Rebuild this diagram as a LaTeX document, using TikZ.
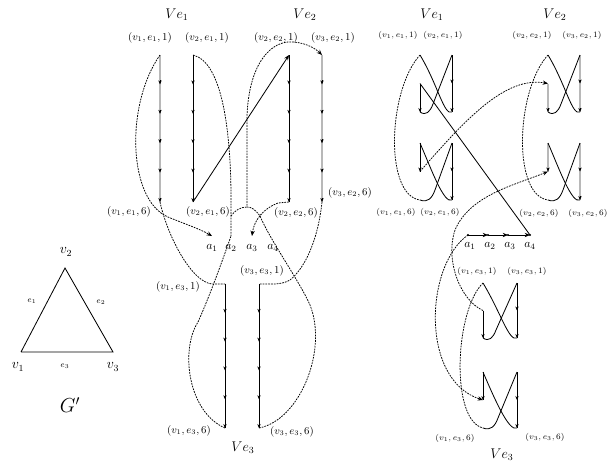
\documentclass[tikz,border=0pt]{standalone}
\usetikzlibrary{arrows.meta}

\begin{document}
\begin{tikzpicture}[
  x=0.03cm, y=-0.03cm,
  lab/.style={font=\small, inner sep=0pt},
  rlab/.style={font=\fontsize{7.4}{9}\selectfont, inner sep=0pt},
  gad/.style={font=\large, inner sep=0pt},
  sel/.style={font=\normalsize, inner sep=0pt},
  col/.style={line width=.7pt},
  gcol/.style={line width=1.6pt, draw=black!28},
  tick/.style={-{Stealth[length=1.2mm,width=1mm]}, line width=.45pt},
  walk/.style={dash pattern=on 1.5pt off 0.9pt, line width=.65pt},
  tip/.style={-{Stealth[length=1.6mm,width=1.3mm]}}
]
\useasboundingbox (0,0) rectangle (607,465);

% the graph G'
\coordinate (g1) at (21,352);
\coordinate (g2) at (65,268);
\coordinate (g3) at (113,352);
\draw[col] (g1) -- (g2) -- (g3) -- (g1);
\node[gad] (g1l) at (18,367) {$v_1$};
\node[gad] (g2l) at (66,252) {$v_2$};
\node[gad] (g3l) at (113,367) {$v_3$};
\node[font=\scriptsize] (e1l) at (32,301) {$e_1$};
\node[font=\scriptsize] (e2l) at (101,302) {$e_2$};
\node[font=\scriptsize] (e3l) at (65,366) {$e_3$};
\node[font=\LARGE] (gp) at (70,405) {$G'$};

% left drawing: the chains of the three gadgets
\foreach \n/\x/\yt/\yb/\st in {A/160/55/202/gcol, B/193/55/202/col, C/289/55/202/col,
    D/322/55/202/gcol, E/225/284/428/col, F/259/284/428/col}{
  \coordinate (\n1) at (\x,\yt);
  \coordinate (\n6) at (\x,\yb);
  \draw[\st] (\n1) -- (\n6);
  \foreach \i in {1,...,5}
    \draw[tick] (\x,{\yt+(\yb-\yt)*\i/5-4}) -- (\x,{\yt+(\yb-\yt)*\i/5});
}
\coordinate (a1) at (212,236);
\coordinate (a2) at (231,236);
\coordinate (a3) at (252,236);
\coordinate (a4) at (273,236);

\node[gad] (ve1) at (177,15) {$Ve_1$};
\node[gad] (ve2) at (305,15) {$Ve_2$};
\node[gad] (ve3) at (243,448) {$Ve_3$};
\node[lab] (lA1) at (150,38) {$(v_1,e_1,1)$};
\node[lab] (lB1) at (207,38) {$(v_2,e_1,1)$};
\node[lab] (lC1) at (276,38) {$(v_2,e_2,1)$};
\node[lab] (lD1) at (333,38) {$(v_3,e_2,1)$};
\node[lab] (lA6) at (129,212) {$(v_1,e_1,6)$};
\node[lab] (lB6) at (208,212) {$(v_2,e_1,6)$};
\node[lab] (lC6) at (296,213) {$(v_2,e_2,6)$};
\node[lab] (lD6) at (350,193) {$(v_3,e_2,6)$};
\node[lab] (lE1) at (178,287) {$(v_1,e_3,1)$};
\node[lab] (lF1) at (262,271) {$(v_3,e_3,1)$};
\node[lab] (lE6) at (189,431) {$(v_1,e_3,6)$};
\node[lab] (lF6) at (292,432) {$(v_3,e_3,6)$};
\node[sel] (la1) at (212,248) {$a_1$};
\node[sel] (la2) at (231,248) {$a_2$};
\node[sel] (la3) at (252,248) {$a_3$};
\node[sel] (la4) at (273,248) {$a_4$};

% v1
\draw[walk,tip] (A1) .. controls (125,105) and (128,200) .. (168,217) .. controls (185,224) and (200,229) .. (a1);
\draw[walk] (A6) .. controls (168,238) and (192,282) .. (212,284) -- (E1);
\draw[walk] (E6) .. controls (188,412) and (180,350) .. (198,322) .. controls (208,300) and (222,262) .. (a2);
% v2
\draw[walk] (B1) .. controls (222,62) and (232,130) .. (231,214) -- (a2);
\draw[col,tip] (B6) -- (C1);
\draw[walk,tip] (C6) -- (278,203) .. controls (264,208) and (254,220) .. (a3);
% v3
\draw[walk,tip] (F6) .. controls (300,420) and (328,350) .. (310,305) .. controls (300,282) and (270,240) .. (260,216)
  .. controls (255,209) and (251,207) .. (247,207) -- (247,116) .. controls (249,62) and (272,40) .. (293,42)
  .. controls (308,43) and (317,50) .. (D1);
\draw[walk] (231,216) .. controls (235,210) and (241,207) .. (247,207);
\draw[walk] (D6) .. controls (318,240) and (305,268) .. (290,280) .. controls (282,285) and (270,284) .. (F1);

% right drawing: the gadgets as bow ties
\foreach \n/\l/\r/\yt/\yb/\st in {P/420/452/55/112/col, Q/548/580/55/112/gcol, R/483/517/283/338/col}{
  \coordinate (\n m) at (\l,{(\yt+\yb)/2});
  \draw[\st] (\r,\yt) -- (\r,\yb);
  \draw[\st] (\n m) -- (\l,\yb);
  \draw[tick] (\r,{(\yt+\yb)/2-4}) -- (\r,{(\yt+\yb)/2});
  \draw[tick] (\r,\yb-4) -- (\r,\yb);
  \draw[tick] (\l,\yb-4) -- (\l,\yb);
  \draw[col] (\l,\yt) .. controls (\l+18,\yt+30) and (\r-8,\yb+4) .. (\r,\yb);
  \draw[col] (\l,\yb) .. controls (\l+6,\yb+4) and (\l+10,\yb) .. (\l+13,\yb-8) -- (\r,\yt);
}
\foreach \n/\l/\r/\yt/\yb/\st in {S/420/452/143/200/col, T/548/580/143/200/gcol, U/483/517/372/428/col}{
  \coordinate (\n m) at (\l,{(\yt+\yb)/2});
  \draw[\st] (\r,\yt) -- (\r,\yb);
  \draw[\st] (\l,\yt) -- (\n m);
  \draw[tick] (\r,{(\yt+\yb)/2-4}) -- (\r,{(\yt+\yb)/2});
  \draw[tick] (\r,\yb-4) -- (\r,\yb);
  \draw[tick] (\l,{(\yt+\yb)/2-4}) -- (\n m);
  \draw[col] (\l,\yt) .. controls (\l+12,\yt+28) and (\r-8,\yb+4) .. (\r,\yb);
  \draw[col] (\l,\yb) .. controls (\l+8,\yb+3) and (\l+12,\yb-2) .. (\l+15,\yb-10) -- (\r,\yt);
}
\coordinate (P1) at (420,55);
\coordinate (S6) at (420,200);
\coordinate (Q1) at (548,55);
\coordinate (T6) at (548,200);
\coordinate (R1) at (483,283);
\coordinate (U6) at (483,428);
\coordinate (b1) at (468,235);
\coordinate (b2) at (488,235);
\coordinate (b3) at (508,235);
\coordinate (b4) at (530,235);

\node[gad] (we1) at (432,15) {$Ve_1$};
\node[gad] (we2) at (555,15) {$Ve_2$};
\node[gad] (we3) at (502,455) {$Ve_3$};
\node[rlab] (rP1) at (398,35) {$(v_1,e_1,1)$};
\node[rlab] (rP2) at (443,35) {$(v_2,e_1,1)$};
\node[rlab] (rQ1) at (532,35) {$(v_2,e_2,1)$};
\node[rlab] (rQ2) at (582,35) {$(v_3,e_2,1)$};
\node[rlab] (rS1) at (396,212) {$(v_1,e_1,6)$};
\node[rlab] (rS2) at (440,212) {$(v_2,e_1,6)$};
\node[rlab] (rT1) at (539,213) {$(v_2,e_2,6)$};
\node[rlab] (rT2) at (588,213) {$(v_3,e_2,6)$};
\node[rlab] (rR1) at (477,271) {$(v_1,e_3,1)$};
\node[rlab] (rR2) at (527,271) {$(v_3,e_3,1)$};
\node[rlab] (rU1) at (455,438) {$(v_1,e_3,6)$};
\node[rlab] (rU2) at (545,437) {$(v_3,e_3,6)$};
\node[sel] (lb1) at (470,246) {$a_1$};
\node[sel] (lb2) at (490,246) {$a_2$};
\node[sel] (lb3) at (510,246) {$a_3$};
\node[sel] (lb4) at (530,246) {$a_4$};

\draw[walk] (P1) .. controls (388,90) and (384,195) .. (S6);
\draw[walk] (Q1) .. controls (516,90) and (512,195) .. (T6);
\draw[walk] (R1) .. controls (455,310) and (450,420) .. (U6);
\draw[col] (Pm) -- (b4);
\draw[walk,tip] (Sm) .. controls (465,120) and (505,76) .. (Qm);
\draw[walk,tip] (Rm) .. controls (460,300) and (445,260) .. (455,230) .. controls (470,195) and (515,185) .. (Tm);
\draw[walk,tip] (b1) .. controls (425,265) and (420,380) .. (Um);
\draw[col,tip] (b1) -- (b2);
\draw[col,tip] (b2) -- (b3);
\draw[col,tip] (b3) -- (b4);
\foreach \c in {b1,b2,b3,b4}
  \fill (\c) circle (1.2);
\end{tikzpicture}
\end{document}
